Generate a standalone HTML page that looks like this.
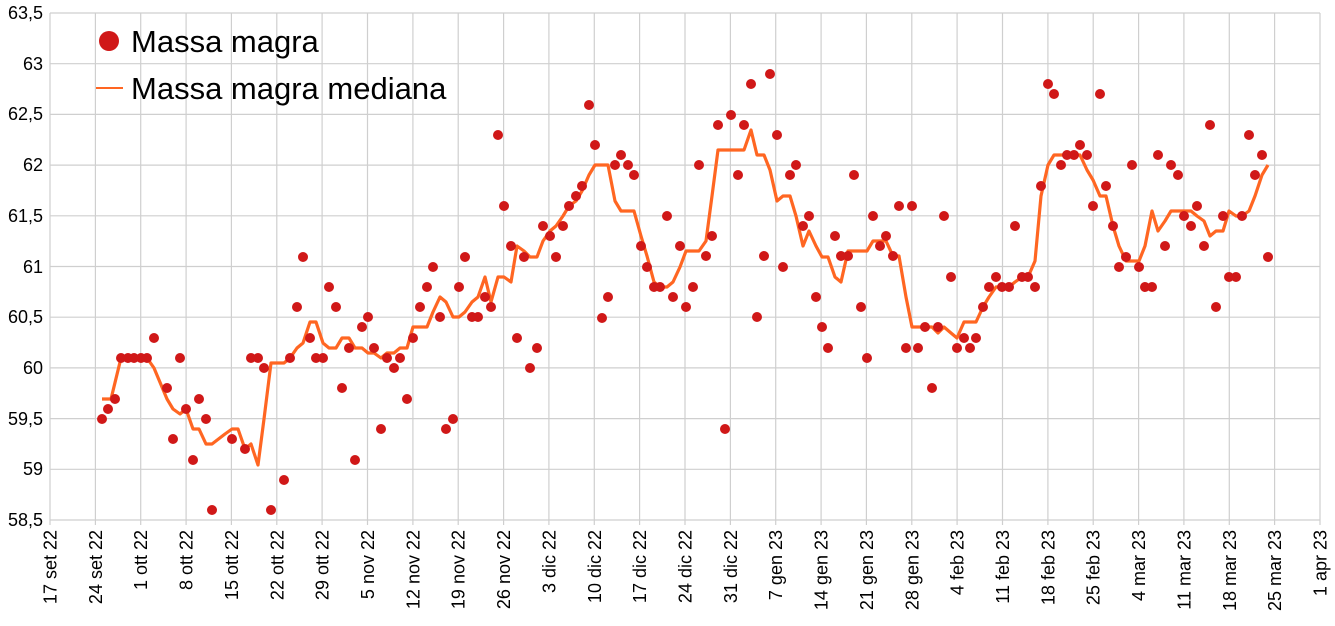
<!DOCTYPE html>
<html><head><meta charset="utf-8"><style>body{margin:0;background:#fff}svg{display:block}text{font-family:"Liberation Sans",sans-serif;fill:#000}</style></head><body>
<svg width="1335" height="626" viewBox="0 0 1335 626">
<g stroke="#cfcfcf" stroke-width="1.2">
<line x1="50" y1="13" x2="1320" y2="13"/><line x1="50" y1="63.7" x2="1320" y2="63.7"/><line x1="50" y1="114.4" x2="1320" y2="114.4"/><line x1="50" y1="165.1" x2="1320" y2="165.1"/><line x1="50" y1="215.8" x2="1320" y2="215.8"/><line x1="50" y1="266.5" x2="1320" y2="266.5"/><line x1="50" y1="317.2" x2="1320" y2="317.2"/><line x1="50" y1="367.9" x2="1320" y2="367.9"/><line x1="50" y1="418.6" x2="1320" y2="418.6"/><line x1="50" y1="469.3" x2="1320" y2="469.3"/><line x1="50" y1="520" x2="1320" y2="520"/>
<line x1="50.0" y1="13" x2="50.0" y2="525"/><line x1="95.4" y1="13" x2="95.4" y2="525"/><line x1="140.7" y1="13" x2="140.7" y2="525"/><line x1="186.1" y1="13" x2="186.1" y2="525"/><line x1="231.4" y1="13" x2="231.4" y2="525"/><line x1="276.8" y1="13" x2="276.8" y2="525"/><line x1="322.1" y1="13" x2="322.1" y2="525"/><line x1="367.5" y1="13" x2="367.5" y2="525"/><line x1="412.9" y1="13" x2="412.9" y2="525"/><line x1="458.2" y1="13" x2="458.2" y2="525"/><line x1="503.6" y1="13" x2="503.6" y2="525"/><line x1="548.9" y1="13" x2="548.9" y2="525"/><line x1="594.3" y1="13" x2="594.3" y2="525"/><line x1="639.6" y1="13" x2="639.6" y2="525"/><line x1="685.0" y1="13" x2="685.0" y2="525"/><line x1="730.4" y1="13" x2="730.4" y2="525"/><line x1="775.7" y1="13" x2="775.7" y2="525"/><line x1="821.1" y1="13" x2="821.1" y2="525"/><line x1="866.4" y1="13" x2="866.4" y2="525"/><line x1="911.8" y1="13" x2="911.8" y2="525"/><line x1="957.1" y1="13" x2="957.1" y2="525"/><line x1="1002.5" y1="13" x2="1002.5" y2="525"/><line x1="1047.9" y1="13" x2="1047.9" y2="525"/><line x1="1093.2" y1="13" x2="1093.2" y2="525"/><line x1="1138.6" y1="13" x2="1138.6" y2="525"/><line x1="1183.9" y1="13" x2="1183.9" y2="525"/><line x1="1229.3" y1="13" x2="1229.3" y2="525"/><line x1="1274.6" y1="13" x2="1274.6" y2="525"/><line x1="1320" y1="13" x2="1320" y2="525"/>
</g>
<g font-size="18" text-anchor="end">
<text x="43" y="19">63,5</text><text x="43" y="70">63</text><text x="43" y="120">62,5</text><text x="43" y="171">62</text><text x="43" y="222">61,5</text><text x="43" y="273">61</text><text x="43" y="323">60,5</text><text x="43" y="374">60</text><text x="43" y="425">59,5</text><text x="43" y="475">59</text><text x="43" y="526">58,5</text>
</g>
<g font-size="18" text-anchor="end">
<text transform="translate(56.5,530) rotate(-90)">17 set 22</text><text transform="translate(101.9,530) rotate(-90)">24 set 22</text><text transform="translate(147.2,530) rotate(-90)">1 ott 22</text><text transform="translate(192.6,530) rotate(-90)">8 ott 22</text><text transform="translate(237.9,530) rotate(-90)">15 ott 22</text><text transform="translate(283.3,530) rotate(-90)">22 ott 22</text><text transform="translate(328.6,530) rotate(-90)">29 ott 22</text><text transform="translate(374,530) rotate(-90)">5 nov 22</text><text transform="translate(419.4,530) rotate(-90)">12 nov 22</text><text transform="translate(464.7,530) rotate(-90)">19 nov 22</text><text transform="translate(510.1,530) rotate(-90)">26 nov 22</text><text transform="translate(555.4,530) rotate(-90)">3 dic 22</text><text transform="translate(600.8,530) rotate(-90)">10 dic 22</text><text transform="translate(646.1,530) rotate(-90)">17 dic 22</text><text transform="translate(691.5,530) rotate(-90)">24 dic 22</text><text transform="translate(736.9,530) rotate(-90)">31 dic 22</text><text transform="translate(782.2,530) rotate(-90)">7 gen 23</text><text transform="translate(827.6,530) rotate(-90)">14 gen 23</text><text transform="translate(872.9,530) rotate(-90)">21 gen 23</text><text transform="translate(918.3,530) rotate(-90)">28 gen 23</text><text transform="translate(963.6,530) rotate(-90)">4 feb 23</text><text transform="translate(1009,530) rotate(-90)">11 feb 23</text><text transform="translate(1054.4,530) rotate(-90)">18 feb 23</text><text transform="translate(1099.7,530) rotate(-90)">25 feb 23</text><text transform="translate(1145.1,530) rotate(-90)">4 mar 23</text><text transform="translate(1190.4,530) rotate(-90)">11 mar 23</text><text transform="translate(1235.8,530) rotate(-90)">18 mar 23</text><text transform="translate(1281.1,530) rotate(-90)">25 mar 23</text><text transform="translate(1326.5,530) rotate(-90)">1 apr 23</text>
</g>
<polyline fill="none" stroke="#ff6622" stroke-width="3.2" stroke-linejoin="round" points="102,399 111,399 121,358 147,358 154,368 167,399 173,409 180,414 186,409 193,429 199,429 206,444 212,444 225,434 232,429 238,429 245,449 251,444 258,465 264,419 271,363 284,363 290,358 297,348 303,343 310,322 316,322 323,343 329,348 336,348 342,338 349,338 355,348 362,348 368,353 374,353 381,358 387,353 394,353 400,348 407,348 413,327 420,327 427,327 433,312 440,297 446,302 453,317 459,317 465,312 472,302 478,297 485,277 491,302 498,277 504,277 511,282 517,246 524,251 530,257 537,257 543,241 550,231 556,226 563,216 569,206 576,201 582,191 589,175 595,165 608,165 615,201 621,211 634,211 641,236 647,256 654,282 660,287 667,287 673,282 680,267 686,251 693,251 699,251 706,241 712,196 718,150 738,150 744,150 751,130 757,155 764,155 770,170 777,201 783,196 790,196 796,216 803,246 809,231 816,246 822,257 828,257 835,277 841,282 848,251 854,251 861,251 867,251 873,241 880,241 886,241 893,256 899,256 906,297 912,327 925,327 932,327 938,333 944,327 951,333 957,338 964,322 970,322 976,322 983,307 989,297 996,287 1002,287 1009,287 1015,282 1022,277 1028,277 1035,261 1041,196 1048,165 1054,155 1061,155 1067,155 1074,155 1080,155 1087,170 1093,180 1100,196 1106,196 1113,226 1119,246 1126,261 1132,261 1139,261 1145,246 1152,211 1158,231 1165,221 1171,211 1178,211 1184,211 1191,211 1197,216 1204,221 1210,236 1216,231 1223,231 1229,211 1236,216 1242,216 1249,211 1255,196 1262,175 1268,165"/>
<g fill="#d01818" id="dots"></g>
<circle cx="109" cy="41" r="10" fill="#d01818"/>
<line x1="96" y1="88" x2="123" y2="88" stroke="#ff6622" stroke-width="2"/>
<text x="131" y="52" font-size="31">Massa magra</text>
<text x="131" y="99" font-size="31">Massa magra mediana</text>
</svg>
<script>
var p=[102,419,108,409,115,399,121,358,128,358,134,358,141,358,147,358,154,338,167,388,173,439,180,358,186,409,193,460,199,399,206,419,212,510,232,439,245,449,251,358,258,358,264,368,271,510,284,480,290,358,297,307,303,257,310,338,316,358,323,358,329,287,336,307,342,388,349,348,355,460,362,327,368,317,374,348,381,429,387,358,394,368,400,358,407,399,413,338,420,307,427,287,433,267,440,317,446,429,453,419,459,287,465,257,472,317,478,317,485,297,491,307,498,135,504,206,511,246,517,338,524,257,530,368,537,348,543,226,550,236,556,257,563,226,569,206,576,196,582,186,589,105,595,145,602,318,608,297,615,165,621,155,628,165,634,175,641,246,647,267,654,287,660,287,667,216,673,297,680,246,686,307,693,287,699,165,706,256,712,236,718,125,725,429,731,115,738,175,744,125,751,84,757,317,764,256,770,74,777,135,783,267,790,175,796,165,803,226,809,216,816,297,822,327,828,348,835,236,841,256,848,256,854,175,861,307,867,358,873,216,880,246,886,236,893,256,899,206,906,348,912,206,918,348,925,327,932,388,938,327,944,216,951,277,957,348,964,338,970,348,976,338,983,307,989,287,996,277,1002,287,1009,287,1015,226,1022,277,1028,277,1035,287,1041,186,1048,84,1054,94,1061,165,1067,155,1074,155,1080,145,1087,155,1093,206,1100,94,1106,186,1113,226,1119,267,1126,257,1132,165,1139,267,1145,287,1152,287,1158,155,1165,246,1171,165,1178,175,1184,216,1191,226,1197,206,1204,246,1210,125,1216,307,1223,216,1229,277,1236,277,1242,216,1249,135,1255,175,1262,155,1268,257];
var g=document.getElementById('dots'),s='';for(var i=0;i<p.length;i+=2)s+='<circle cx="'+p[i]+'" cy="'+p[i+1]+'" r="5"/>';g.innerHTML=s;
</script>
</body></html>
